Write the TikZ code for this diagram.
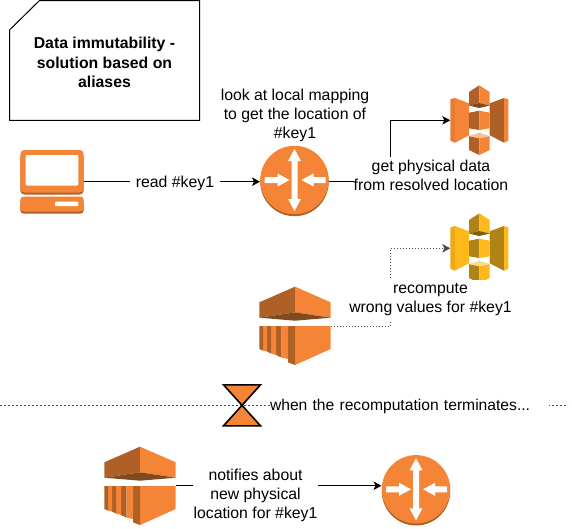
\documentclass[tikz,border=0pt]{standalone}
\usepackage{fontspec}
\setmainfont{Liberation Sans}
\usetikzlibrary{arrows.meta}
\definecolor{awsL}{HTML}{F58536}
\definecolor{awsD}{HTML}{AF6027}
\definecolor{awsN}{HTML}{7F4A1F}
\definecolor{awsH}{HTML}{FBBF93}
\definecolor{awsM}{HTML}{E87C32}
\definecolor{yelL}{HTML}{FFB81C}
\definecolor{yelD}{HTML}{B08414}
\definecolor{yelN}{HTML}{7E5E0E}
\definecolor{yelH}{HTML}{FFD98A}
\definecolor{yelM}{HTML}{F0A818}
\tikzset{
  iconbox/.style={inner sep=0pt,outer sep=0pt,draw=none,fill=none},
  lbl/.style={font=\fontsize{15.8}{19.3}\selectfont,align=center,inner sep=0pt,fill=white,text=black},
  title/.style={font=\fontsize{15.8}{19.3}\selectfont\bfseries,align=center,inner sep=0pt},
  wire/.style={draw=black,line width=1pt,-{Stealth[length=8pt,width=8.5pt,inset=2pt]}},
  dotwire/.style={draw=black!70,line width=1pt,dash pattern=on 1.5pt off 1.5pt,-{Stealth[length=8pt,width=8.5pt,inset=2pt]}},
  divider/.style={draw=black!70,line width=1pt,dash pattern=on 2pt off 2pt},
  noteshape/.style={draw=black,line width=1pt,fill=white},
  glass/.style={draw=black,line width=1.6pt,fill=awsL,line join=miter}
}
% x y light dark notch highlight mid
\newcommand{\SThree}[7]{%
\begin{scope}[shift={(#1,#2)}]
 \fill[#7] (5.3,19.3)--(10,18)--(10,62.7)--(5.3,60.7)--cycle;
 \fill[#3] (10,18)--(24,23.3)--(24,55.3)--(10,62.7)--cycle;
 \fill[#4] (44.7,23.3)--(59,18)--(59,62.7)--(44.7,55.3)--cycle;
 \fill[#3] (59,18)--(63.3,19.3)--(63.3,60.7)--(59,62.7)--cycle;
 \fill[#4] (24,12)--(34.3,5.3)--(34.3,23)--(24,25.5)--cycle;
 \fill[#3] (34.3,5.3)--(44.7,12)--(44.7,25.5)--(34.3,23)--cycle;
 \fill[#5] (24,25.5)--(34.3,23)--(44.7,25.5)--(34.3,28)--cycle;
 \fill[#4] (24,32.7)--(34.3,30.7)--(34.3,50)--(24,48.3)--cycle;
 \fill[#3] (34.3,30.7)--(44.7,32.7)--(44.7,48.3)--(34.3,50)--cycle;
 \fill[#4] (24,56)--(34.3,58.3)--(34.3,75)--(24,70)--cycle;
 \fill[#3] (34.3,58.3)--(44.7,56)--(44.7,70)--(34.3,75)--cycle;
 \fill[#6] (24,56)--(34.3,52.7)--(44.7,56)--(34.3,58.3)--cycle;
\end{scope}}
\newcommand{\Router}[2]{%
\begin{scope}[shift={(#1,#2)}]
 \fill[awsD] (0,2) circle[radius=34.2];
 \fill[awsL] (0,0) circle[radius=34.2];
 \fill[white] (0,-31)--(6.5,-19)--(3,-19)--(3,19)--(6.5,19)--(0,31)--(-6.5,19)--(-3,19)--(-3,-19)--(-6.5,-19)--cycle;
 \fill[white] (-30,-3)--(-17,-3)--(-17,-6.5)--(-5,0)--(-17,6.5)--(-17,3)--(-30,3)--cycle;
 \fill[white] (31,-3)--(19,-3)--(19,-6.5)--(7,0)--(19,6.5)--(19,3)--(31,3)--cycle;
\end{scope}}
\newcommand{\Stream}[2]{%
\begin{scope}[shift={(#1,#2)}]
 \fill[awsD] (19.3,27.3)--(55,11.7)--(55,37.3)--(19.3,42.7)--cycle;
 \fill[awsL] (55,11.7)--(90.7,27.3)--(90.7,42.7)--(55,37.3)--cycle;
 \fill[awsN] (19.3,42.7)--(55,37.3)--(90.7,42.7)--(55,45.7)--cycle;
 \fill[awsL] (55,51)--(90.7,51)--(90.7,74)--(55,90)--cycle;
 \fill[awsD] (48,51)--(55,51)--(55,90)--(48,87.3)--cycle;
 \fill[awsL] (41.3,51)--(48,51)--(48,84)--(41.3,82.5)--cycle;
 \fill[awsD] (36,51)--(41.3,51)--(41.3,82.5)--(36,80)--cycle;
 \fill[awsL] (31,51)--(36,51)--(36,80)--(31,78.5)--cycle;
 \fill[awsD] (27,51)--(31,51)--(31,78.5)--(27,76.5)--cycle;
 \fill[awsL] (23,51)--(27,51)--(27,76.5)--(23,75.5)--cycle;
 \fill[awsD] (19.3,51)--(23,51)--(23,75.5)--(19.3,74)--cycle;
\end{scope}}
\begin{document}
\begin{tikzpicture}[x=1pt,y=-1pt]
\useasboundingbox (0,0) rectangle (572,528);
% divider
\coordinate (divL) at (0,405.5);
\coordinate (divR) at (568,405.5);
\draw[divider] (divL) -- (divR);
% note
\draw[noteshape] (9.5,30)--(39.5,0.5)--(199.5,0.5)--(199.5,120.3)--(9.5,120.3)--cycle;
\node[title] (note) at (104.5,62.5) {Data immutability -\\solution based on\\aliases};
% icon boxes
\node[iconbox,minimum width=64pt,minimum height=63pt] (lap) at (52,181.7) {};
\node[iconbox,minimum width=69pt,minimum height=71pt] (rout1) at (294.5,181.7) {};
\node[iconbox,minimum width=58pt,minimum height=70pt] (s1) at (479.3,120.3) {};
\node[iconbox,minimum width=58pt,minimum height=70pt] (s2) at (479.3,248.3) {};
\node[iconbox,minimum width=71.4pt,minimum height=79pt] (kin1) at (295,326.3) {};
\node[iconbox,minimum width=71.4pt,minimum height=79pt] (kin2) at (140,485.7) {};
\node[iconbox,minimum width=69pt,minimum height=71pt] (rout2) at (416,491) {};
\node[iconbox,minimum width=37pt,minimum height=41pt] (glass) at (242,405.3) {};
\coordinate (bendA) at (390.5,150);
\coordinate (bendB) at (390.5,290);
% connectors
\draw[wire] (lap.east) -- (rout1.west);
\draw[wire] (rout1.east) -| (bendA) |- (s1.west);
\draw[dotwire] (kin1.east) -| (bendB) |- (s2.west);
\draw[wire] (kin2.east) -- (kin2.east -| rout2.west);
% laptop
\begin{scope}[shift={(15,145)}]
 \fill[awsD,rounded corners=4pt] (5.3,8) rectangle (68.7,49.5);
 \fill[awsL,rounded corners=4pt] (5.3,5) rectangle (68.7,47.5);
 \fill[white,rounded corners=1pt] (10.7,10) rectangle (63.3,40.5);
 \fill[awsD,rounded corners=3pt] (5.3,54) rectangle (68.7,68.5);
 \fill[awsL,rounded corners=3pt] (5.3,51.7) rectangle (68.7,66.5);
 \fill[white,rounded corners=1pt] (40,56.7) rectangle (63.3,61);
\end{scope}
\Router{294.5}{180}
\Router{416}{489.3}
\SThree{445}{80}{awsL}{awsD}{awsN}{awsH}{awsM}
\SThree{445}{208}{yelL}{yelD}{yelN}{yelH}{yelM}
\Stream{240}{275}
\Stream{85}{435}
% hourglass
\draw[glass] (glass.north west)--(glass.north east)--(glass.south west)--(glass.south east)--cycle;
% labels
\node[lbl] (l1) at (295,115.5) {look at local mapping\\to get the location of\\\#key1};
\node[lbl,minimum width=90pt,minimum height=20pt] (l2) at (175,183) {read \#key1};
\node[lbl,minimum height=38pt] (l3) at (431,175.5) {get physical data\\from resolved location};
\node[lbl,minimum width=170pt,minimum height=40pt] (l4) at (430.5,299.5) {recompute\\wrong values for \#key1};
\node[lbl,font=\fontsize{15.65}{19.3}\selectfont,anchor=west,text width=279pt,align=left,minimum height=20pt] (l5) at (269.8,406.5) {when the recomputation terminates...};
\node[lbl,minimum width=125pt] (l6) at (255.5,495.5) {notifies about\\new physical\\location for \#key1};
\end{tikzpicture}
\end{document}
